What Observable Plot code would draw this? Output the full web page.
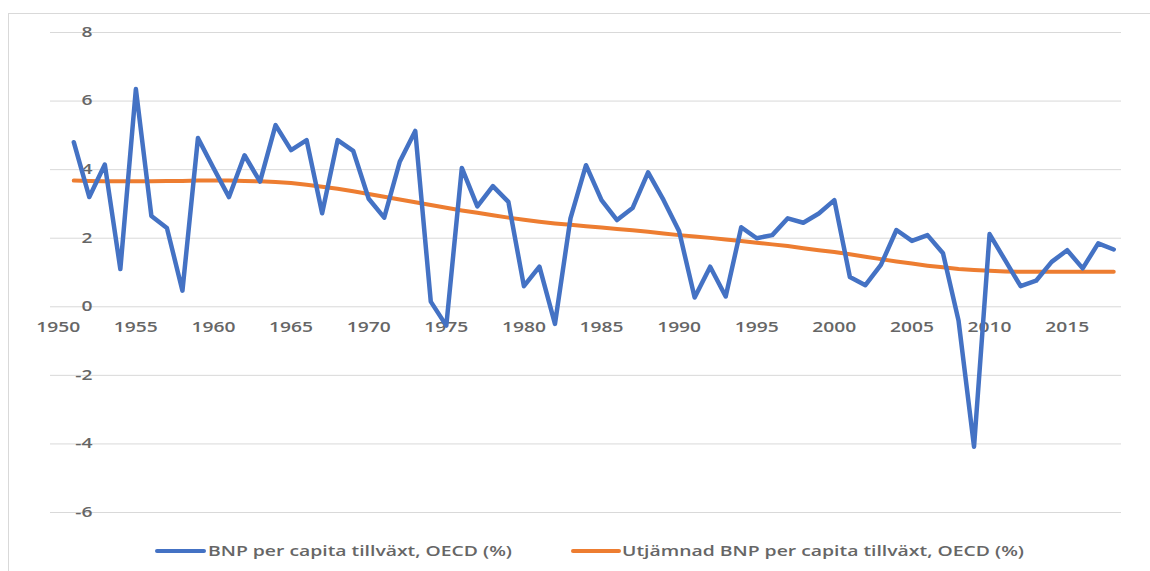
<!DOCTYPE html>
<html>
<head>
<meta charset="utf-8">
<script src="https://cdn.jsdelivr.net/npm/d3@7"></script>
<script src="https://cdn.jsdelivr.net/npm/@observablehq/plot@0.6"></script>
<style>
  html, body { margin: 0; padding: 0; background: #fff; }
  body { position: relative; width: 1150px; height: 571px; overflow: hidden; font-family: "Open Sans", "Noto Sans", sans-serif; }
  #frame { position: absolute; left: 8px; top: 13px; width: 1160px; height: 600px; border-left: 1px solid #d9d9d9; border-top: 1px solid #d9d9d9; box-sizing: border-box; }
  #chart { position: absolute; left: 0; top: 0; }
  .leg { position: absolute; top: 539px; height: 24px; line-height: 24px; font-size: 14px; font-weight: 600; color: #666666; white-space: nowrap; }
  .sw { position: absolute; top: 548.5px; height: 4.5px; border-radius: 2px; }
  .leg span { display: inline-block; transform-origin: 0 50%; }
</style>
</head>
<body>
<div id="frame"></div>
<div id="chart"></div>
<script>
const years = [1951,1952,1953,1954,1955,1956,1957,1958,1959,1960,
  1961,1962,1963,1964,1965,1966,1967,1968,1969,1970,
  1971,1972,1973,1974,1975,1976,1977,1978,1979,1980,
  1981,1982,1983,1984,1985,1986,1987,1988,1989,1990,
  1991,1992,1993,1994,1995,1996,1997,1998,1999,2000,
  2001,2002,2003,2004,2005,2006,2007,2008,2009,2010,
  2011,2012,2013,2014,2015,2016,2017,2018];

const bnpGrowth = [4.8,3.2,4.15,1.1,6.35,2.65,2.3,0.47,4.92,4.05,
  3.2,4.42,3.65,5.3,4.57,4.86,2.73,4.86,4.55,3.15,
  2.6,4.23,5.13,0.15,-0.55,4.05,2.93,3.52,3.06,0.6,
  1.17,-0.5,2.58,4.13,3.11,2.53,2.88,3.92,3.11,2.2,
  0.27,1.17,0.3,2.32,2.0,2.09,2.58,2.45,2.72,3.11,
  0.87,0.63,1.22,2.24,1.92,2.09,1.56,-0.4,-4.08,2.12,
  1.36,0.6,0.76,1.31,1.65,1.12,1.85,1.67];

const smoothed = [3.68,3.67,3.66,3.66,3.66,3.66,3.67,3.67,3.68,3.68,
  3.68,3.67,3.66,3.64,3.61,3.56,3.5,3.44,3.37,3.29,
  3.21,3.13,3.05,2.97,2.89,2.81,2.74,2.67,2.6,2.54,
  2.48,2.43,2.39,2.35,2.31,2.27,2.23,2.19,2.14,2.09,
  2.05,2.01,1.96,1.92,1.87,1.82,1.77,1.71,1.65,1.6,
  1.53,1.46,1.39,1.32,1.26,1.2,1.15,1.1,1.07,1.05,
  1.03,1.02,1.02,1.02,1.02,1.02,1.02,1.02];

const xTicks = [1950,1955,1960,1965,1970,1975,1980,1985,1990,1995,2000,2005,2010,2015];
const yTicks = [-6,-4,-2,0,2,4,6,8];

const seriesNames = ["BNP per capita tillväxt, OECD (%)", "Utjämnad BNP per capita tillväxt, OECD (%)"];
const seriesColors = ["#4472C4", "#ED7D31"];

const raw = years.map((y, i) => ({year: y, value: bnpGrowth[i]}));
const smooth = years.map((y, i) => ({year: y, value: smoothed[i]}));

const chart = Plot.plot({
  width: 1150,
  height: 530,
  marginTop: 32,
  marginBottom: 18,
  marginLeft: 50,
  marginRight: 29,
  style: {fontFamily: '"Open Sans", "Noto Sans", sans-serif', background: "transparent"},
  x: {domain: [1949.5, 2018.5], axis: null},
  y: {domain: [-6, 8], axis: null},
  marks: [
    Plot.ruleY(yTicks, {stroke: "#d9d9d9", strokeWidth: 1}),
    Plot.text(yTicks, {x: () => 1949.5, y: d => d, text: d => String(d), textAnchor: "end", dx: 42, fill: "#666666", fontSize: 13.5, fontWeight: 600}),
    Plot.text(xTicks, {x: d => d, y: () => 0, text: d => String(d), dy: 21, fill: "#666666", fontSize: 13.5, fontWeight: 600}),
    Plot.line(smooth, {x: "year", y: "value", stroke: seriesColors[1], strokeWidth: 4, strokeLinejoin: "round", strokeLinecap: "round"}),
    Plot.line(raw, {x: "year", y: "value", stroke: seriesColors[0], strokeWidth: 4.5, strokeLinejoin: "round", strokeLinecap: "round"})
  ]
});
document.getElementById("chart").appendChild(chart);

// widen tick labels horizontally like the stretched reference ("1950" is ~44px wide there)
const texts = Array.from(chart.querySelectorAll("text"));
const ref = texts.find(el => el.textContent === "1950");
const refW = ref ? ref.getComputedTextLength() : 0;
const sx = refW > 0 ? 44 / refW : 1.4;
texts.forEach(el => {
  const w = el.getComputedTextLength();
  if (w > 0) {
    el.setAttribute("textLength", (w * sx).toFixed(2));
    el.setAttribute("lengthAdjust", "spacingAndGlyphs");
  }
});

// legend
const legendPos = [{sw: 155, swW: 51, tx: 208, tw: 304}, {sw: 571, swW: 50, tx: 622, tw: 402}];
seriesNames.forEach((name, i) => {
  const p = legendPos[i];
  const sw = document.createElement("div");
  sw.className = "sw";
  sw.style.left = p.sw + "px";
  sw.style.width = p.swW + "px";
  sw.style.background = seriesColors[i];
  document.body.appendChild(sw);
  const lg = document.createElement("div");
  lg.className = "leg";
  lg.style.left = p.tx + "px";
  const sp = document.createElement("span");
  sp.textContent = name;
  lg.appendChild(sp);
  document.body.appendChild(lg);
  const w = sp.getBoundingClientRect().width;
  sp.style.transform = `scaleX(${p.tw / w})`;
});
</script>
</body>
</html>
